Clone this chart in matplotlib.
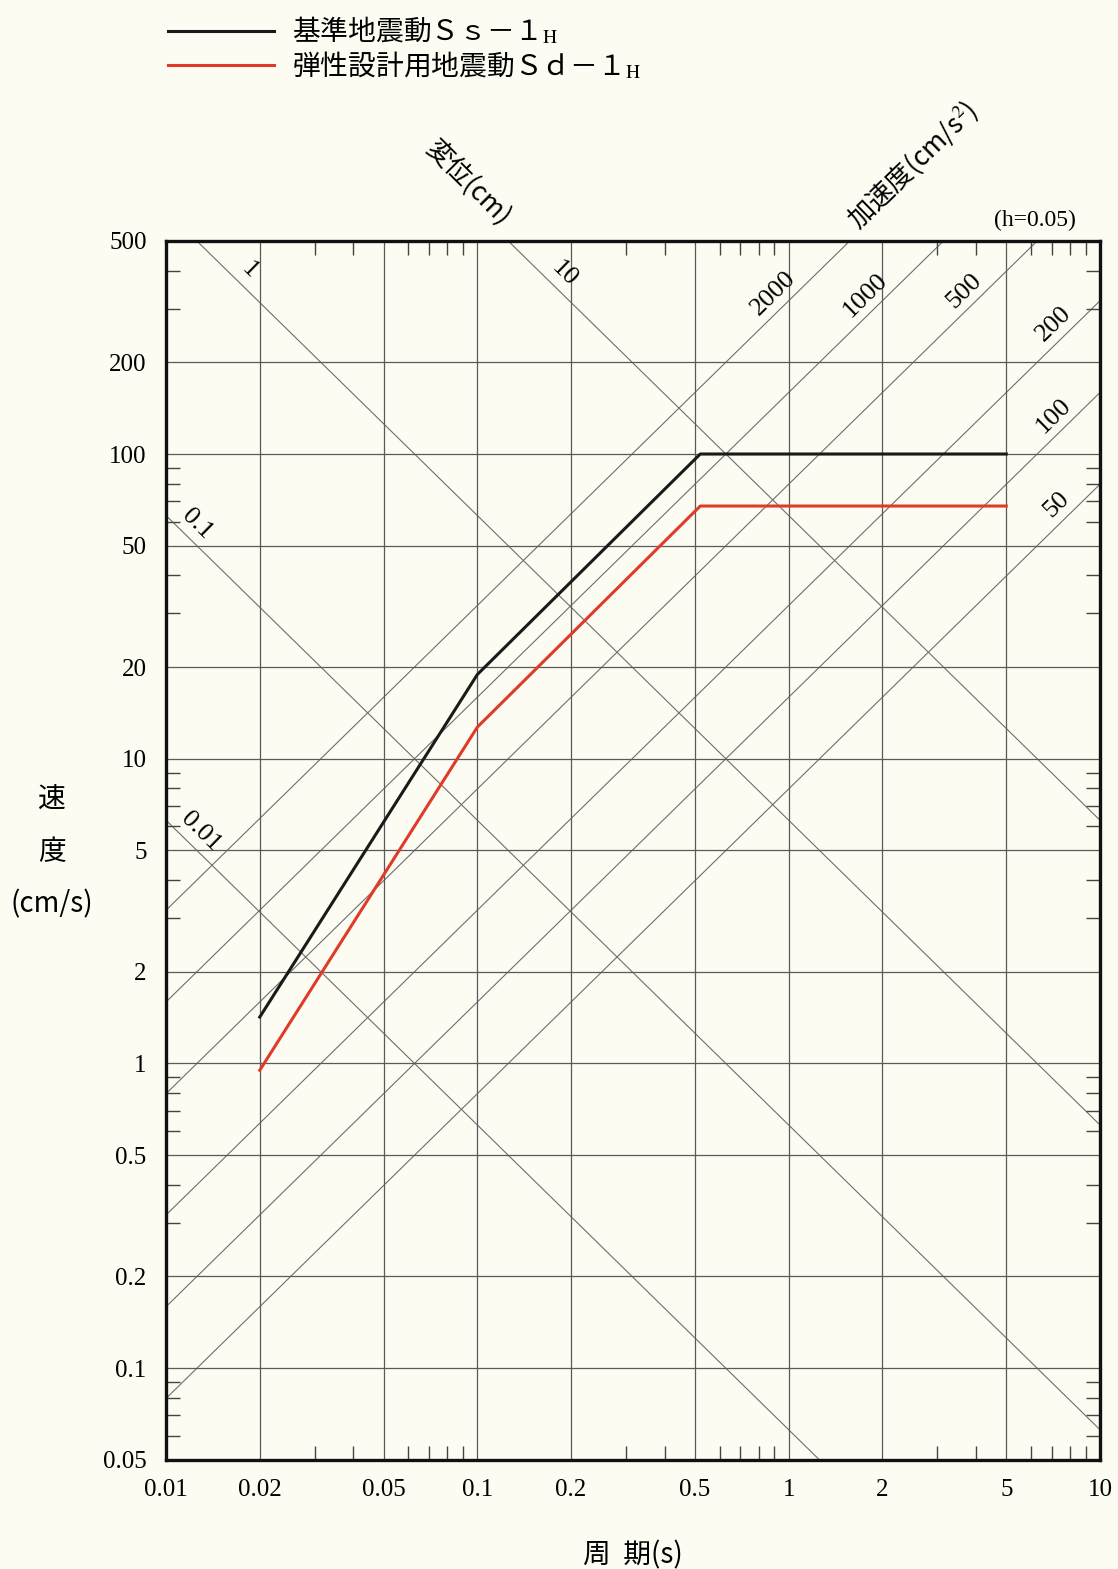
import numpy as np
import matplotlib.pyplot as plt
from matplotlib.ticker import FixedLocator, FixedFormatter, NullFormatter

plt.rcParams['font.family'] = ['Liberation Serif', 'Noto Sans CJK JP']
plt.rcParams['mathtext.fontset'] = 'stix'
jp = ['Noto Sans CJK JP', 'DejaVu Sans']

# design spectra (period s, pseudo velocity cm/s)
T_ss = [0.02, 0.10, 0.52, 5.0]
V_ss = [1.42, 18.9, 100, 100]
T_sd = [0.02, 0.10, 0.52, 5.0]
V_sd = [0.95, 12.7, 67.5, 67.5]

label_ss = '基準地震動Ｓｓ－１$_{\\rm H}$'
label_sd = '弾性設計用地震動Ｓｄ－１$_{\\rm H}$'

# tripartite guide lines
disp_levels = [0.01, 0.1, 1, 10]          # cm
disp_label_T = [0.0119, 0.0116, 0.0171, 0.175]
acc_levels = [50, 100, 200, 500, 1000, 2000]   # cm/s2
acc_label_T = [7.9, 7.73, 7.73, 3.97, 1.91, 0.97]

x_ticks = [0.01, 0.02, 0.05, 0.1, 0.2, 0.5, 1, 2, 5, 10]
x_ticklabels = ['0.01', '0.02', '0.05', '0.1', '0.2', '0.5', '1', '2', '5', '10']
y_ticks = [0.05, 0.1, 0.2, 0.5, 1, 2, 5, 10, 20, 50, 100, 200, 500]
y_ticklabels = ['0.05', '0.1', '0.2', '0.5', '1', '2', '5', '10', '20', '50', '100', '200', '500']

bg = '#fcfcf3'
fig = plt.figure(figsize=(11.18, 15.69), dpi=100, facecolor=bg)
ax = fig.add_axes([0.1485, 0.0695, 0.9839 - 0.1485, 0.8464 - 0.0695])
ax.set_facecolor(bg)
ax.set_xscale('log')
ax.set_yscale('log')
ax.set_xlim(0.01, 10)
ax.set_ylim(0.05, 500)

T_line = np.logspace(-2, 1, 300)
for d, tl in zip(disp_levels, disp_label_T):
    ax.plot(T_line, 2 * np.pi * d / T_line, color='#6e6e6e', lw=0.8, zorder=1)
    ax.annotate(f'{d:g}', (tl, 2 * np.pi * d / tl), xytext=(8, 8),
                textcoords='offset points', rotation=-44.4, ha='center',
                va='center', fontsize=19, rotation_mode='anchor')
for a, tl in zip(acc_levels, acc_label_T):
    ax.plot(T_line, a * T_line / (2 * np.pi), color='#6e6e6e', lw=0.8, zorder=1)
    ax.annotate(f'{a:g}', (tl, a * tl / (2 * np.pi)), xytext=(-8, 8),
                textcoords='offset points', rotation=44.4, ha='center',
                va='center', fontsize=19, rotation_mode='anchor')

line_ss, = ax.plot(T_ss, V_ss, color='#1a1a1a', lw=2.2, zorder=3)
line_sd, = ax.plot(T_sd, V_sd, color='#e03a2a', lw=2.2, zorder=3)

ax.xaxis.set_major_locator(FixedLocator(x_ticks))
ax.xaxis.set_major_formatter(FixedFormatter(x_ticklabels))
ax.yaxis.set_major_locator(FixedLocator(y_ticks))
ax.yaxis.set_major_formatter(FixedFormatter(y_ticklabels))
minors = [m * 10.0 ** k for k in range(-2, 3) for m in (3, 4, 6, 7, 8, 9)]
ax.xaxis.set_minor_locator(FixedLocator(minors))
ax.yaxis.set_minor_locator(FixedLocator(minors))
ax.xaxis.set_minor_formatter(NullFormatter())
ax.yaxis.set_minor_formatter(NullFormatter())
ax.tick_params(which='major', length=0, labelsize=18)
ax.tick_params(axis='x', which='major', pad=14)
ax.tick_params(axis='y', which='major', pad=14)
ax.tick_params(which='minor', direction='in', length=10, width=1,
               color='#444444', top=True, right=True)
ax.grid(which='major', color='#5a5a5a', lw=0.9, zorder=0)
for s in ax.spines.values():
    s.set_linewidth(2.4)
    s.set_color('#111111')

ax.set_xlabel('周  期(s)', family=jp, fontsize=20, labelpad=28)
ax.set_ylabel('速\n度\n(cm/s)', family=jp, fontsize=20, rotation=0,
              linespacing=2.0, va='center', ha='center')
ax.yaxis.set_label_coords(-0.122, 0.499)

fig.text(468 / 1118, 1 - 183 / 1569, '変位(cm)', family=jp, fontsize=19,
         rotation=-45, ha='center', va='center')
fig.text(912 / 1118, 1 - 165 / 1569, '加速度(cm/s$^2$)', family=jp, fontsize=19,
         rotation=44, ha='center', va='center')
ax.text(0.974, 1.008, '(h=0.05)', transform=ax.transAxes, ha='right',
        va='bottom', fontsize=17)

fig.legend([line_ss, line_sd], [label_ss, label_sd], loc='upper left',
           bbox_to_anchor=(143 / 1118, 1 + 9 / 1569), frameon=False,
           prop={'family': 'Noto Sans CJK JP', 'size': 20},
           handlelength=3.8, handletextpad=0.65, labelspacing=0.1)

fig.savefig('out.png', dpi=100, facecolor=bg)
